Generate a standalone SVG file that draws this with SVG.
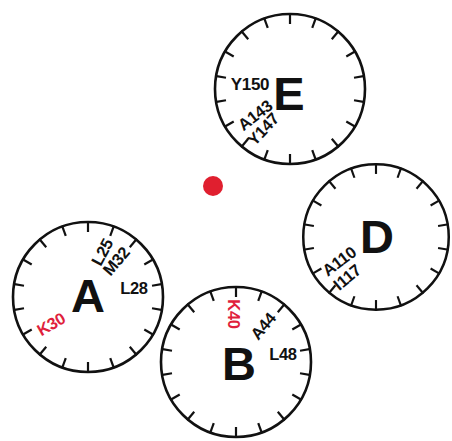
<svg xmlns="http://www.w3.org/2000/svg" width="452" height="441" viewBox="0 0 452 441">
<style>
.dial{fill:none;stroke:#111;stroke-width:2.6}
.tick{stroke:#111;stroke-width:2.2}
.big{font-family:"Liberation Sans",Arial,sans-serif;font-weight:bold;font-size:47px;fill:#111;text-anchor:middle}
.lab{font-family:"Liberation Sans",Arial,sans-serif;font-weight:bold;font-size:16.5px;fill:#111;text-anchor:middle;letter-spacing:-0.3px}
.red{fill:#e01f3d}
</style>
<defs>
<g id="dial">
<circle class="dial" cx="0" cy="0" r="75"/>
<g class="tick">
<line x1="0" y1="-76" x2="0" y2="-65" transform="rotate(0)"/>
<line x1="0" y1="-76" x2="0" y2="-65" transform="rotate(20)"/>
<line x1="0" y1="-76" x2="0" y2="-65" transform="rotate(40)"/>
<line x1="0" y1="-76" x2="0" y2="-65" transform="rotate(60)"/>
<line x1="0" y1="-76" x2="0" y2="-65" transform="rotate(80)"/>
<line x1="0" y1="-76" x2="0" y2="-65" transform="rotate(100)"/>
<line x1="0" y1="-76" x2="0" y2="-65" transform="rotate(120)"/>
<line x1="0" y1="-76" x2="0" y2="-65" transform="rotate(140)"/>
<line x1="0" y1="-76" x2="0" y2="-65" transform="rotate(160)"/>
<line x1="0" y1="-76" x2="0" y2="-65" transform="rotate(180)"/>
<line x1="0" y1="-76" x2="0" y2="-65" transform="rotate(200)"/>
<line x1="0" y1="-76" x2="0" y2="-65" transform="rotate(220)"/>
<line x1="0" y1="-76" x2="0" y2="-65" transform="rotate(240)"/>
<line x1="0" y1="-76" x2="0" y2="-65" transform="rotate(260)"/>
<line x1="0" y1="-76" x2="0" y2="-65" transform="rotate(280)"/>
<line x1="0" y1="-76" x2="0" y2="-65" transform="rotate(300)"/>
<line x1="0" y1="-76" x2="0" y2="-65" transform="rotate(320)"/>
<line x1="0" y1="-76" x2="0" y2="-65" transform="rotate(340)"/>
</g>
</g>
</defs>
<rect width="452" height="441" fill="#fff"/>
<g id="connectors"></g>
<g id="center-dot"><circle cx="213" cy="186" r="10" fill="#e01f2f"/></g>
<g id="E">
<use href="#dial" transform="translate(290,89)"/>
<text class="big" x="289" y="110">E</text>
<text class="lab" x="250" y="90" style="font-size:17px">Y150</text>
<text class="lab" transform="translate(255,115) rotate(-38)" x="0" y="6">A143</text>
<text class="lab" transform="translate(263,129) rotate(-47)" x="0" y="6">Y147</text>
</g>
<g id="D">
<use href="#dial" transform="translate(376,237) scale(0.97)"/>
<text class="big" x="377" y="253">D</text>
<text class="lab" transform="translate(339,261) rotate(-37)" x="0" y="6">A110</text>
<text class="lab" transform="translate(347,277) rotate(-40)" x="0" y="6">I117</text>
</g>
<g id="A">
<use href="#dial" transform="translate(88,297)"/>
<text class="big" x="88" y="312">A</text>
<text class="lab" transform="translate(102,252) rotate(-62)" x="0" y="6">L25</text>
<text class="lab" transform="translate(116,261) rotate(-50)" x="0" y="6">M32</text>
<text class="lab" x="134" y="294">L28</text>
<text class="lab red" transform="translate(51,324) rotate(-30)" x="0" y="6">K30</text>
</g>
<g id="B">
<use href="#dial" transform="translate(236,362)"/>
<text class="big" x="239" y="380">B</text>
<text class="lab red" transform="translate(234,314) rotate(90)" x="0" y="6">K40</text>
<text class="lab" transform="translate(263,326) rotate(-50)" x="0" y="6">A44</text>
<text class="lab" x="283" y="360">L48</text>
</g>
</svg>
